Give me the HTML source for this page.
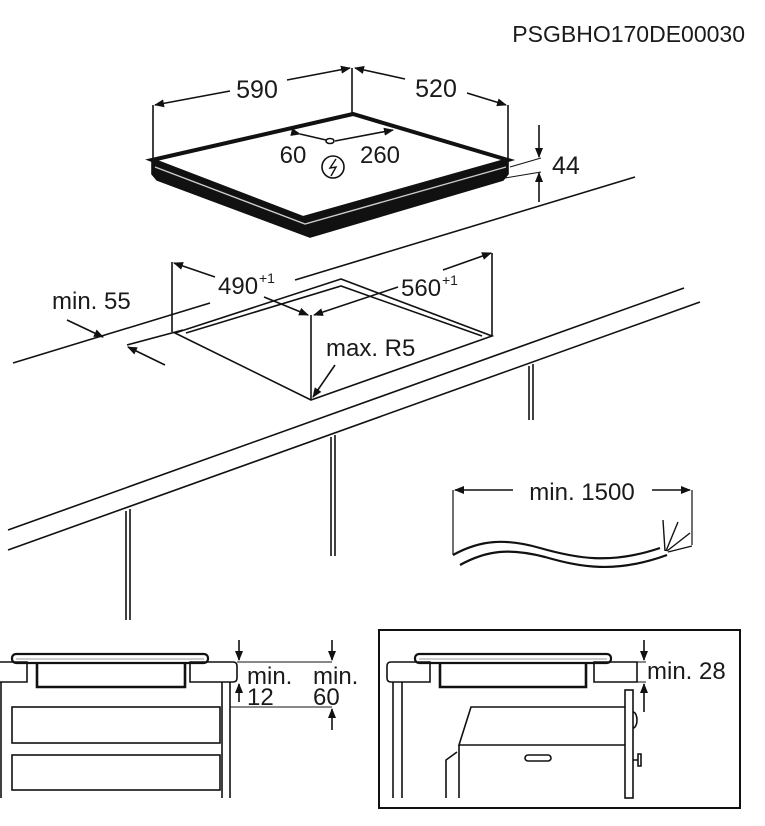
<!DOCTYPE html>
<html><head><meta charset="utf-8"><style>
html,body{margin:0;padding:0;background:#fff}
svg{display:block}
text{font-family:"Liberation Sans",sans-serif;fill:#1a1a1a}
</style></head><body>
<svg width="765" height="826" viewBox="0 0 765 826" xmlns="http://www.w3.org/2000/svg">
<defs>
<marker id="a" markerWidth="10" markerHeight="8" refX="9" refY="4" orient="auto" markerUnits="userSpaceOnUse"><path d="M0,0 L10,4 L0,8 Z" fill="#111"/></marker>
</defs>
<g stroke="#111" stroke-width="1.6" fill="none">
<text x="745" y="42" font-size="23" text-anchor="end" stroke="none">PSGBHO170DE00030</text>
<!-- top dims -->
<line x1="153" y1="105" x2="153" y2="160"/>
<line x1="352" y1="68" x2="352" y2="113"/>
<line x1="508" y1="105" x2="508" y2="160"/>
<line x1="230" y1="91" x2="155" y2="105" marker-end="url(#a)"/>
<line x1="287" y1="80" x2="350" y2="68" marker-end="url(#a)"/>
<line x1="405" y1="79" x2="355" y2="68" marker-end="url(#a)"/>
<line x1="467" y1="93" x2="506" y2="105" marker-end="url(#a)"/>
<text x="257" y="98" font-size="25" text-anchor="middle" stroke="none">590</text>
<text x="436" y="97" font-size="25" text-anchor="middle" stroke="none">520</text>
<!-- hob -->
<path d="M152,160 L303,218 L508,160 L508,174 L503,180 L310,237 L157,180 L152,174 Z" fill="#111"/>
<path d="M155,167 L305,224 L506,167" stroke="#ccc" stroke-width="1.4"/>
<path d="M152,160 L353,114 L508,160 L303,218 Z" fill="#fff" stroke="#111" stroke-width="4"/>
<line x1="300" y1="134" x2="326" y2="140" marker-start="url(#a)"/>
<ellipse cx="330" cy="141" rx="4" ry="2.5"/>
<line x1="335" y1="141" x2="393" y2="130" marker-end="url(#a)"/>
<text x="293" y="163" font-size="24" text-anchor="middle" stroke="none">60</text>
<text x="380" y="163" font-size="24" text-anchor="middle" stroke="none">260</text>
<circle cx="333" cy="167" r="11"/>
<path d="M336,159 L330,168 L336,167 L331,176" stroke-width="1.4"/>
<!-- 44 -->
<line x1="510" y1="167" x2="541" y2="158" stroke-width="1"/>
<line x1="505" y1="178" x2="541" y2="172" stroke-width="1"/>
<line x1="539" y1="125" x2="539" y2="157" marker-end="url(#a)"/>
<line x1="539" y1="202" x2="539" y2="173" marker-end="url(#a)"/>
<text x="552" y="174" font-size="25" stroke="none">44</text>
<!-- countertop -->
<line x1="635" y1="177" x2="295" y2="280"/>
<line x1="210" y1="303" x2="13" y2="363"/>
<line x1="127" y1="345" x2="183" y2="330"/>
<line x1="684" y1="288" x2="8" y2="530"/>
<line x1="700" y1="302" x2="8" y2="550"/>
<!-- cutout -->
<path d="M341,279 L175,333 L311,400 L492,336 Z"/>
<path d="M186,333 L341,286 L482,336"/>
<line x1="172" y1="262" x2="172" y2="332"/>
<line x1="492" y1="253" x2="492" y2="336"/>
<line x1="311" y1="315" x2="311" y2="400"/>
<line x1="215" y1="277" x2="174" y2="263" marker-end="url(#a)"/>
<line x1="264" y1="297" x2="308" y2="315" marker-end="url(#a)"/>
<line x1="398" y1="287" x2="314" y2="315" marker-end="url(#a)"/>
<line x1="443" y1="270" x2="491" y2="253" marker-end="url(#a)"/>
<text x="218" y="294" font-size="24" stroke="none">490</text><text x="259" y="283" font-size="14" stroke="none">+1</text>
<text x="401" y="296" font-size="24" stroke="none">560</text><text x="442" y="285" font-size="14" stroke="none">+1</text>
<text x="326" y="356" font-size="24" stroke="none">max. R5</text>
<line x1="335" y1="365" x2="313" y2="397" marker-end="url(#a)"/>
<text x="52" y="309" font-size="24" stroke="none">min. 55</text>
<line x1="67" y1="320" x2="103" y2="337" marker-end="url(#a)"/>
<line x1="165" y1="365" x2="128" y2="347" marker-end="url(#a)"/>
<!-- legs -->
<line x1="529" y1="366" x2="529" y2="420"/><line x1="533" y1="364" x2="533" y2="420"/>
<line x1="331" y1="437" x2="331" y2="556"/><line x1="335" y1="435" x2="335" y2="556"/>
<line x1="126" y1="511" x2="126" y2="620"/><line x1="130" y1="509" x2="130" y2="620"/>
<!-- cable -->
<line x1="453" y1="490" x2="453" y2="555" stroke-width="1.2"/>
<line x1="692" y1="490" x2="692" y2="545" stroke-width="1.2"/>
<line x1="513" y1="490" x2="455" y2="490" marker-end="url(#a)"/>
<line x1="652" y1="490" x2="690" y2="490" marker-end="url(#a)"/>
<text x="582" y="500" font-size="24" text-anchor="middle" stroke="none">min. 1500</text>
<path d="M453,555 C480,540 505,538 540,548 C575,558 610,565 660,548" stroke-width="2.2"/>
<path d="M460,565 C487,550 510,548 545,557 C580,567 615,574 667,555" stroke-width="2.2"/>
<path d="M665,551 L663,520 M666,551 L678,522 M667,551 L690,533 M668,552 L692,546" stroke-width="1.4"/>
<!-- bottom left panel -->
<rect x="12" y="654" width="196" height="9" rx="4" stroke-width="2.2"/>
<line x1="16" y1="659" x2="204" y2="659" stroke="#999" stroke-width="1"/>
<path d="M0,662 L27,662 L27,682 L0,682"/>
<path d="M190,662 L233,662 Q237,662 237,666 L237,678 Q237,682 233,682 L190,682 Z"/>
<path d="M37,663 L37,687 L185,687 L185,663" stroke-width="2.6"/>
<line x1="1" y1="682" x2="1" y2="798"/>
<line x1="222" y1="682" x2="222" y2="798"/><line x1="230" y1="682" x2="230" y2="798"/>
<rect x="12" y="707" width="208" height="36"/>
<rect x="12" y="755" width="208" height="35"/>
<line x1="237" y1="662" x2="332" y2="662" stroke-width="1"/>
<line x1="230" y1="707" x2="332" y2="707" stroke-width="1"/>
<line x1="239" y1="640" x2="239" y2="660" marker-end="url(#a)"/>
<line x1="239" y1="702" x2="239" y2="684" marker-end="url(#a)"/>
<line x1="332" y1="640" x2="332" y2="660" marker-end="url(#a)"/>
<line x1="332" y1="730" x2="332" y2="709" marker-end="url(#a)"/>
<text x="247" y="684" font-size="24" stroke="none">min.</text>
<text x="313" y="684" font-size="24" stroke="none">min.</text>
<text x="247" y="705" font-size="24" stroke="none">12</text>
<text x="313" y="705" font-size="24" stroke="none">60</text>
<!-- bottom right panel -->
<rect x="379" y="630" width="361" height="178" stroke-width="2"/>
<rect x="415" y="654" width="196" height="9" rx="4" stroke-width="2.2"/>
<line x1="419" y1="659" x2="607" y2="659" stroke="#999" stroke-width="1"/>
<path d="M430,662 L391,662 Q387,662 387,666 L387,678 Q387,682 391,682 L430,682 Z"/>
<path d="M594,662 L637,662 L637,682 L594,682 Z"/>
<path d="M440,663 L440,687 L586,687 L586,663" stroke-width="2.6"/>
<line x1="393" y1="682" x2="393" y2="798"/><line x1="402" y1="682" x2="402" y2="798"/>
<path d="M625,707 L471,707 L459,745 L625,745"/>
<path d="M459,745 L459,798 M457,752 L446,760 L446,798"/>
<rect x="525" y="755" width="26" height="6" rx="3"/>
<rect x="625" y="690" width="8" height="108"/>
<path d="M633,712 A4,8 0 0 1 633,728"/>
<path d="M633,760 L638,760 M638,754 L638,766 L641,766 L641,754 Z"/>
<line x1="637" y1="662" x2="646" y2="662" stroke-width="1"/>
<line x1="637" y1="682" x2="646" y2="682" stroke-width="1"/>
<line x1="644" y1="640" x2="644" y2="660" marker-end="url(#a)"/>
<line x1="644" y1="712" x2="644" y2="684" marker-end="url(#a)"/>
<text x="647" y="679" font-size="24" stroke="none">min. 28</text>
</g>
</svg>
</body></html>
